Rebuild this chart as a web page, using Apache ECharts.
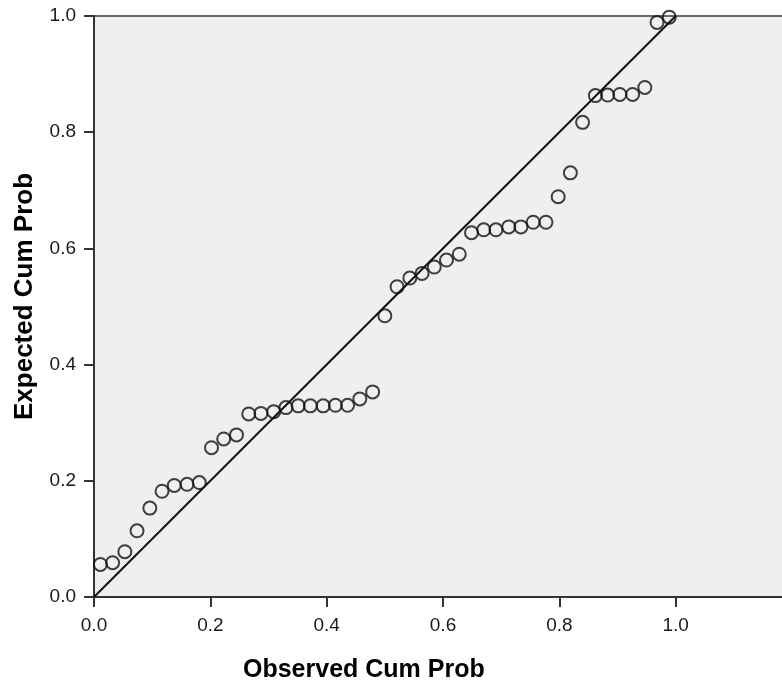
<!DOCTYPE html>
<html>
<head>
<meta charset="utf-8">
<script src="https://cdn.jsdelivr.net/npm/echarts@6/dist/echarts.min.js"></script>
<style>
html,body{margin:0;padding:0;background:#ffffff;}
#chart{width:782px;height:689px;}
</style>
</head>
<body>
<div id="chart"></div>
<script>
// Observed cumulative probabilities (x)
const observed = [0.011, 0.032, 0.053, 0.074, 0.096, 0.117, 0.138, 0.160, 0.181, 0.202,
  0.223, 0.245, 0.266, 0.287, 0.309, 0.330, 0.351, 0.372, 0.394, 0.415,
  0.436, 0.457, 0.479, 0.500, 0.521, 0.543, 0.564, 0.585, 0.606, 0.628,
  0.649, 0.670, 0.691, 0.713, 0.734, 0.755, 0.777, 0.798, 0.819, 0.840,
  0.862, 0.883, 0.904, 0.926, 0.947, 0.968, 0.989];
// Expected cumulative probabilities (y)
const expected = [0.056, 0.059, 0.078, 0.114, 0.153, 0.182, 0.192, 0.194, 0.197, 0.257,
  0.272, 0.279, 0.315, 0.316, 0.319, 0.326, 0.329, 0.329, 0.329, 0.330,
  0.330, 0.341, 0.353, 0.484, 0.534, 0.549, 0.557, 0.568, 0.580, 0.590,
  0.627, 0.632, 0.632, 0.637, 0.637, 0.645, 0.645, 0.689, 0.730, 0.817,
  0.863, 0.864, 0.865, 0.865, 0.877, 0.989, 0.998];
// Reference diagonal endpoints
const refLine = [[0, 0], [1, 1]];
const xTicks = [0.0, 0.2, 0.4, 0.6, 0.8, 1.0, 1.2];
const yTicks = [0.0, 0.2, 0.4, 0.6, 0.8, 1.0];
const xTitle = 'Observed Cum Prob';
const yTitle = 'Expected Cum Prob';

const points = observed.map((x, i) => [x, expected[i]]);
const chart = echarts.init(document.getElementById('chart'), null, {renderer: 'canvas'});
const font = '"Liberation Sans", Arial, sans-serif';
chart.setOption({
  animation: false,
  backgroundColor: '#ffffff',
  grid: {
    left: 94, top: 16, width: 698, height: 581, containLabel: false, outerBoundsMode: 'none',
    show: true, backgroundColor: '#efefef', borderColor: '#6a6a6a', borderWidth: 2
  },
  xAxis: {
    type: 'value', min: xTicks[0], max: xTicks[xTicks.length - 1], interval: 0.2,
    axisLine: {show: true, onZero: false, lineStyle: {color: '#333', width: 2}},
    axisTick: {show: true, inside: false, length: 10, lineStyle: {color: '#333', width: 2}},
    axisLabel: {show: true, showMaxLabel: false, margin: 19, color: '#1a1a1a', fontSize: 19, fontFamily: font,
      formatter: v => v.toFixed(1)},
    splitLine: {show: false}
  },
  yAxis: {
    type: 'value', min: yTicks[0], max: yTicks[yTicks.length - 1], interval: 0.2,
    axisLine: {show: true, onZero: false, lineStyle: {color: '#333', width: 2}},
    axisTick: {show: true, inside: false, length: 10, lineStyle: {color: '#333', width: 2}},
    axisLabel: {show: true, margin: 18, color: '#1a1a1a', fontSize: 19, fontFamily: font,
      formatter: v => v.toFixed(1)},
    splitLine: {show: false}
  },
  graphic: [
    {type: 'text', left: 243, top: 658, style: {text: xTitle, fill: '#000', font: 'bold 25px ' + font}},
    {type: 'text', x: 12, y: 420, rotation: Math.PI / 2, style: {text: yTitle, fill: '#000', font: 'bold 26px ' + font, textVerticalAlign: 'top'}}
  ],
  series: [
    {
      type: 'line', data: refLine, symbol: 'none', silent: true,
      lineStyle: {color: '#111', width: 2}
    },
    {
      type: 'scatter', data: points, symbol: 'circle', symbolSize: 13, clip: false,
      itemStyle: {color: 'rgba(0,0,0,0)', borderColor: '#111', borderWidth: 2}
    }
  ]
});
</script>
</body>
</html>
